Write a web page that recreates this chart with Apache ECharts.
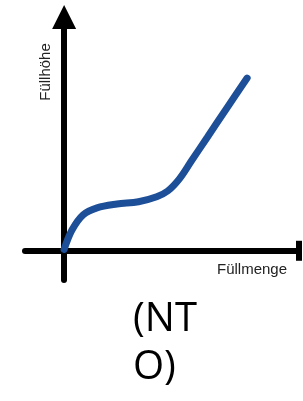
<!DOCTYPE html>
<html>
<head>
<meta charset="utf-8">
<script src="https://cdn.jsdelivr.net/npm/echarts@6/dist/echarts.min.js"></script>
<style>
  html, body { margin: 0; padding: 0; background: #fff; }
  #chart { width: 303px; height: 401px; }
</style>
</head>
<body>
<div id="chart"></div>
<script>
// Füllmenge (x) / Füllhöhe (y)
var fuellmenge = [0, 0.4, 0.97, 1.68, 2.7, 3.8, 4.73, 5.3, 5.9, 6.5, 7.3, 8.3, 9.35];
var fuellhoehe = [0.05, 0.71, 1.23, 1.47, 1.6, 1.68, 1.85, 2.05, 2.47, 3.07, 3.87, 4.87, 5.91];
var xName = 'Füllmenge';
var yName = 'Füllhöhe';
var caption = '(NT\nO)';

var chart = echarts.init(document.getElementById('chart'));

var points = fuellmenge.map(function (x, i) {
  return [x, fuellhoehe[i]];
});

var option = {
  animation: false,
  title: {
    text: caption,
    left: 128,
    top: 291,
    textStyle: {
      fontFamily: 'Open Sans',
      fontSize: 40,
      fontWeight: 'normal',
      lineHeight: 48,
      color: '#000'
    }
  },
  grid: { left: 25, right: 4, top: 17, bottom: 121 },
  xAxis: {
    type: 'value',
    min: -2,
    max: 12,
    axisLine: {
      show: true,
      onZero: true,
      symbol: ['none', 'rect'],
      symbolSize: [20, 6],
      lineStyle: { color: '#000', width: 6, cap: 'round' }
    },
    axisTick: { show: false },
    axisLabel: { show: false },
    splitLine: { show: false }
  },
  yAxis: {
    type: 'value',
    min: -1,
    max: 8,
    axisLine: {
      show: true,
      onZero: true,
      symbol: ['none', 'triangle'],
      symbolSize: [24, 24],
      lineStyle: { color: '#000', width: 6, cap: 'round' }
    },
    axisTick: { show: false },
    axisLabel: { show: false },
    splitLine: { show: false }
  },
  graphic: [
    {
      type: 'text',
      x: 46,
      y: 72,
      rotation: Math.PI / 2,
      style: {
        text: yName,
        font: '15px "Liberation Sans"',
        fill: '#222',
        align: 'center',
        verticalAlign: 'middle'
      }
    },
    {
      type: 'text',
      x: 252,
      y: 270,
      style: {
        text: xName,
        font: '15px "Liberation Sans"',
        fill: '#222',
        align: 'center',
        verticalAlign: 'middle'
      }
    }
  ],
  series: [
    {
      type: 'line',
      data: points,
      smooth: 0.35,
      showSymbol: false,
      clip: false,
      lineStyle: { color: '#1d4f98', width: 7, cap: 'round' }
    }
  ]
};

chart.setOption(option);
</script>
</body>
</html>
